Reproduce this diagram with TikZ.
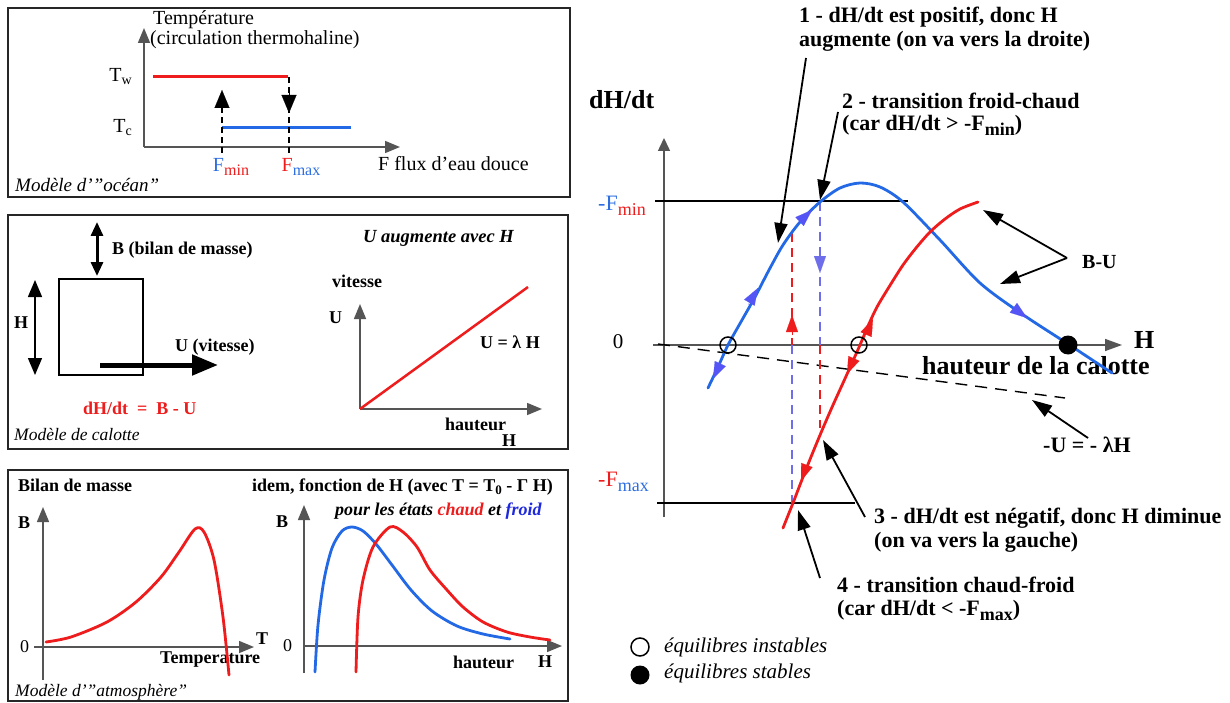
\documentclass[tikz,border=0pt]{standalone}
\usepackage{fontspec}
\setmainfont{Liberation Serif}
\usetikzlibrary{arrows.meta}
\definecolor{cblue}{RGB}{35,105,230}
\definecolor{ablue}{RGB}{85,85,245}
\definecolor{dblue}{RGB}{110,110,235}
\definecolor{cred}{RGB}{238,28,28}
\definecolor{tblue}{RGB}{45,110,225}
\definecolor{fblue}{RGB}{30,40,220}
\definecolor{axgray}{RGB}{85,85,85}
\newcommand\fsz[1]{\fontsize{#1}{#1}\selectfont}
\begin{document}
\begin{tikzpicture}[x=1pt,y=-1pt,
 tx/.style={inner sep=0pt,anchor=west,font=\fsz{18}},
 tr/.style={tx,font=\fsz{20}},
 tb/.style={tx,font=\fsz{18}\bfseries},
 ti/.style={tx,font=\fsz{17.5}\itshape},
 big/.style={tx,font=\fsz{22}\bfseries},
 panel/.style={draw=black!85,line width=1.8pt},
 ax/.style={draw=axgray,line width=1.5pt,-{Triangle[length=15pt,width=12pt]}},
 crv/.style={line width=2.8pt,line cap=round},
 ann/.style={draw=black,line width=1.8pt,-{Triangle[length=20pt,width=13pt]}},
 tiphead/.style={line width=0.1pt,-{Triangle[length=17pt,width=12pt]}},
 dsh/.style={line width=1.5pt,dash pattern=on 9pt off 6pt},
 ocirc/.style={draw,circle,line width=1.5pt,minimum size=16pt,inner sep=0pt},
 fcirc/.style={fill,circle,minimum size=19pt,inner sep=0pt},
]
\useasboundingbox (0,0) rectangle (1230,703);
\fill[white] (0,0) rectangle (1230,703);

% ================= Panel 1 : ocean =================
\draw[panel] (8,8) rectangle (570,197);
\coordinate (o1) at (144,147);
\coordinate (o1y) at (144,28);
\coordinate (o1x) at (400,147);
\draw[ax] (o1) -- (o1y);
\draw[ax] (o1) -- (o1x);
\node[tr] (temp) at (153,20) {Température};
\node[tr] (circ) at (150,40) {(circulation thermohaline)};
\node[tr,anchor=east] (tw) at (132,77) {T\raisebox{-3pt}{\fsz{14}w}};
\node[tr,anchor=east] (tc) at (132,128) {T\raisebox{-3pt}{\fsz{14}c}};
\draw[cred,line width=3pt] (153,77) -- (288,77);
\draw[cblue,line width=3pt] (222,128) -- (351,128);
\draw[black,line width=1.5pt,dash pattern=on 6pt off 4pt] (222,153) -- (222,104);
\draw[black,line width=0.1pt,-{Triangle[length=18pt,width=15pt]}] (222,112) -- (222,90);
\draw[black,line width=1.5pt,dash pattern=on 6pt off 4pt] (289,77) -- (289,153);
\draw[black,line width=0.1pt,-{Triangle[length=18pt,width=15pt]}] (289,91) -- (289,113);
\node[tr,anchor=center] (fmin) at (231,167) {\color{tblue}F\raisebox{-4pt}{\fsz{16}\color{cred}min}};
\node[tr,anchor=center] (fmax) at (301,167) {\color{cred}F\raisebox{-4pt}{\fsz{16}\color{tblue}max}};
\node[tr] (flux) at (378,164) {F flux d’eau douce};
\node[ti,font=\fsz{19}\itshape] (m1) at (15,185) {Modèle d’”océan”};

% ================= Panel 2 : calotte =================
\draw[panel] (8,215) rectangle (568,449);
\coordinate (bt) at (97,222);
\coordinate (bb) at (97,276);
\draw[line width=3pt,{Triangle[length=14pt,width=12pt]}-{Triangle[length=14pt,width=12pt]}] (bt) -- (bb);
\node[tb] (bil) at (112,250) {B (bilan de masse)};
\node[draw,line width=1.2pt,minimum width=84pt,minimum height=96pt,inner sep=0pt] (ice) at (101,327) {};
\coordinate (ht) at (35,280);
\coordinate (hb) at (35,375);
\draw[line width=1.5pt,{Triangle[length=17pt,width=14pt]}-{Triangle[length=17pt,width=14pt]}] (ht) -- (hb);
\node[tb] (hl) at (14,323) {H};
\coordinate (us1) at (100,365);
\coordinate (ue1) at (218,365);
\draw[line width=5pt,-{Triangle[length=26pt,width=20pt]}] (us1) -- (ue1);
\node[tb] (uv) at (175,347) {U (vitesse)};
\node[tb,text=cred] (eq) at (83,408) {dH/dt ~=~ B - U};
\node[ti] (m2) at (14,435) {Modèle de calotte};
\coordinate (o2) at (360,409);
\draw[ax] (o2) -- (360,304);
\draw[ax] (o2) -- (542,409);
\draw[cred,line width=2.5pt] (o2) -- (528,287);
\node[tx,font=\fsz{18.5}\bfseries\itshape] (ua) at (363,238) {U augmente avec H};
\node[tb] (vit) at (332,281) {vitesse};
\node[tb] (ulab) at (329,318) {U};
\node[tb] (ulam) at (480,342) {U = λ H};
\node[tb] (hau) at (445,424) {hauteur};
\node[tb] (hh) at (502,441) {H};

% ================= Panel 3 : atmosphere =================
\draw[panel] (8,470) rectangle (568,701);
\node[tb] (bm) at (18,485) {Bilan de masse};
\node[tb] (b1) at (18,523) {B};
\draw[ax] (43,680) -- (43,507);
\draw[ax] (34,647) -- (254,647);
\node[tx] (z1) at (20,647) {0};
\node[tb] (tt) at (256,639) {T};
\node[tb] (temper) at (160,660) {Temperature};
\draw[cred,crv] plot[smooth] coordinates {(46,642) (71,637) (107,622) (136,602) (161,577) (179,552) (195,529) (204,532) (214,560) (223,617) (229,675)};
\node[ti] (m3) at (15,692) {Modèle d’”atmosphère”};
\node[tb] (idem) at (252,487) {idem, fonction de H (avec T = T\raisebox{-3pt}{\fsz{13}0} - Γ H)};
\node[tx,font=\fsz{18}\bfseries\itshape] (pour) at (335,511) {pour les états \textcolor{cred}{chaud} et \textcolor{fblue}{froid}};
\node[tb] (b2) at (276,522) {B};
\draw[ax] (304,673) -- (304,505);
\draw[ax] (304,646) -- (562,646);
\node[tx] (z2) at (283,646) {0};
\node[tb] (hau2) at (453,662) {hauteur};
\node[tb] (h2) at (538,662) {H};
\draw[cblue,crv] plot[smooth] coordinates {(315,672) (318,625) (324,580) (332,548) (342,531) (352,527) (363,531) (376,544) (392,565) (411,590) (432,611) (457,626) (483,634) (510,639)};
\draw[cred,crv] plot[smooth] coordinates {(356,672) (358,617) (363,580) (373,547) (390,527) (403,532) (417,547) (430,570) (447,590) (463,607) (483,622) (507,632) (530,637) (550,640)};

% ================= Right main graph =================
\node[tx,font=\fsz{26}\bfseries] (dhdt) at (589,100) {dH/dt};
\draw[draw=axgray,line width=1.5pt,-{Triangle[length=13pt,width=12pt]}] (664,517) -- (664,138);
\draw[draw=axgray,line width=1.5pt,-{Triangle[length=17pt,width=12pt]}] (653,345) -- (1122,345);
\node[tx,font=\fsz{26}\bfseries] (Hl) at (1134,340) {H};
\node[tx,font=\fsz{26}\bfseries] (hc) at (922,366) {hauteur de la calotte};
\node[tx,font=\fsz{21},anchor=center] (z0) at (618,342) {0};
\draw[line width=1.2pt] (655,201) -- (908,201);
\draw[line width=1.2pt] (657,503) -- (855,503);
\node[tx,font=\fsz{22}] (lfmin) at (598,206) {\color{tblue}-F\raisebox{-5pt}{\fsz{18}\color{cred}min}};
\node[tx,font=\fsz{22}] (lfmax) at (598,482) {\color{cred}-F\raisebox{-5pt}{\fsz{18}\color{tblue}max}};
% -U line
\draw[line width=1.4pt,dash pattern=on 12pt off 8pt] (658,344) -- (1065,398);
% dashed verticals
\draw[cred,dsh] (792,233) -- (792,345);
\draw[dblue,dsh] (792,345) -- (792,503);
\draw[dblue,dsh] (820,202) -- (820,345);
\draw[cred,dsh] (820,345) -- (820,428);
\draw[cred,tiphead] (792,335) -- (792,315);
\draw[dblue,tiphead] (820,253) -- (820,273);
% curves
\draw[cblue,crv] plot[smooth] coordinates {(708,388) (718,367) (728,345) (742,320) (755,297) (769,270) (783,245) (800,222) (820,202) (840,188) (860,183) (880,187) (903,202) (940,240) (980,283) (1022,314) (1068,344) (1112,373)};
\draw[cred,crv] plot[smooth] coordinates {(783,528) (793,503) (803,477) (813,452) (823,428) (833,405) (843,383) (852,363) (860,345) (868,326) (877,307) (889,287) (903,265) (916,248) (930,232) (945,219) (960,209) (978,202)};
% arrowheads on curves
\draw[ablue,tiphead] (721,362) -- (713,379);
\draw[ablue,tiphead] (748,305) -- (758,288);
\draw[ablue,tiphead] (797,224) -- (812,210);
\draw[ablue,tiphead] (1011,306) -- (1027,318);
\draw[cred,tiphead] (865,337) -- (873,319);
\draw[cred,tiphead] (855,356) -- (847,374);
\draw[cred,tiphead] (808,462) -- (801,481);
% equilibria
\node[ocirc] (u1) at (728,345) {};
\node[ocirc] (u2) at (859,345) {};
\node[fcirc] (s1) at (1068,345) {};
% annotations
\node[big] (l1a) at (799,17) {1 - dH/dt est positif, donc H};
\node[big] (l1b) at (799,41) {augmente (on va vers la droite)};
\node[big] (l2a) at (842,101) {2 - transition froid-chaud};
\node[big] (l2b) at (842,125) {(car dH/dt > -F\raisebox{-5pt}{\fsz{18}min})};
\node[big] (l3a) at (874,518) {3 - dH/dt est négatif, donc H diminue};
\node[big] (l3b) at (874,542) {(on va vers la gauche)};
\node[big] (l4a) at (837,585) {4 - transition chaud-froid};
\node[big] (l4b) at (837,610) {(car dH/dt < -F\raisebox{-5pt}{\fsz{18}max})};
\node[tx,font=\fsz{20}\bfseries] (bu) at (1082,262) {B-U};
\node[big] (ul2) at (1043,445) {-U = - λH};
\coordinate (a1s) at (806,58);  \coordinate (a1e) at (778,243);
\coordinate (a2s) at (838,112); \coordinate (a2e) at (820,200);
\coordinate (a3s) at (865,517); \coordinate (a3e) at (823,440);
\coordinate (a4s) at (820,578); \coordinate (a4e) at (798,510);
\coordinate (bus) at (1067,258); \coordinate (bu1) at (983,210); \coordinate (bu2) at (1000,284);
\coordinate (uls) at (1088,438); \coordinate (ule) at (1032,400);
\draw[ann] (a1s) -- (a1e);
\draw[ann] (a2s) -- (a2e);
\draw[ann] (a3s) -- (a3e);
\draw[ann] (a4s) -- (a4e);
\draw[ann] (bus) -- (bu1);
\draw[ann] (bus) -- (bu2);
\draw[ann] (uls) -- (ule);
% legend
\node[ocirc,minimum size=18pt] (lo) at (640,647) {};
\node[fcirc] (lf) at (640,675) {};
\node[tx,font=\fsz{21}\itshape] (li) at (664,647) {équilibres instables};
\node[tx,font=\fsz{21}\itshape] (ls) at (664,673) {équilibres stables};
\end{tikzpicture}
\end{document}
